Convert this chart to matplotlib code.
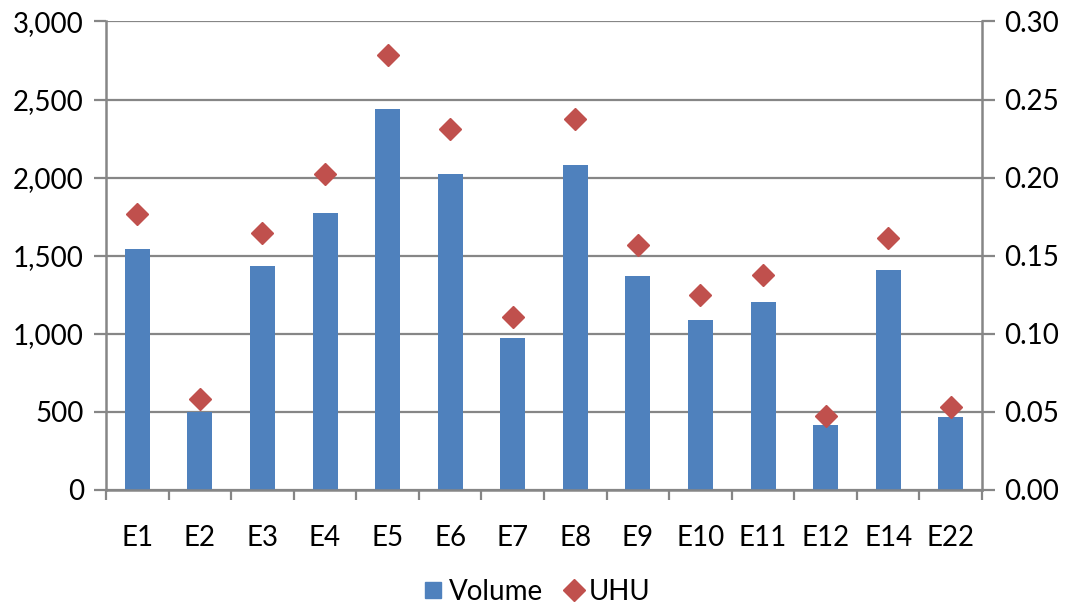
import matplotlib
matplotlib.use("Agg")
import matplotlib.pyplot as plt
from matplotlib.lines import Line2D
import numpy as np

categories = ["E1", "E2", "E3", "E4", "E5", "E6", "E7", "E8", "E9", "E10", "E11", "E12", "E14", "E22"]
volume = [1545, 502, 1434, 1771, 2438, 2026, 972, 2079, 1370, 1090, 1201, 415, 1410, 466]
uhu = [0.177, 0.058, 0.1645, 0.2026, 0.2784, 0.2314, 0.111, 0.2376, 0.1566, 0.125, 0.1376, 0.0474, 0.1611, 0.0532]
left_ticks = [0, 500, 1000, 1500, 2000, 2500, 3000]
right_ticks = [0.00, 0.05, 0.10, 0.15, 0.20, 0.25, 0.30]

BLUE = "#4F81BD"
RED = "#C0504D"
GRID = "#868686"
FS = 20

plt.rcParams["font.family"] = ["Lato", "DejaVu Sans"]

fig = plt.figure(figsize=(10.70, 6.07), dpi=100)
ax = fig.add_axes([0.0991, 0.1928, 0.8187, 0.7718])
ax2 = ax.twinx()

x = np.arange(len(categories))
ax.bar(x, volume, width=0.4, color=BLUE, zorder=2)
ax2.plot(x, uhu, linestyle="none", marker="D", markersize=11.5,
         color=RED, markeredgecolor=RED, zorder=3)

ax.set_xlim(-0.5, len(categories) - 0.5)
ax.set_ylim(0, 3000)
ax2.set_ylim(0, 0.30)

ax.set_yticks(left_ticks)
ax.set_yticklabels([f"{v:,}" for v in left_ticks])
ax2.set_yticks(right_ticks)
ax2.set_yticklabels([f"{v:.2f}" for v in right_ticks])

# category labels at centres, tick marks at the boundaries
ax.set_xticks(x)
ax.set_xticklabels(categories)
ax.set_xticks(np.arange(len(categories) + 1) - 0.5, minor=True)
ax.tick_params(axis="x", which="major", length=0, pad=25, labelsize=FS)
ax.tick_params(axis="x", which="minor", length=7, width=1.6, color=GRID, direction="out")

ax.tick_params(axis="y", length=9, width=1.6, color=GRID, pad=7, labelsize=FS)
ax2.tick_params(axis="y", length=9, width=1.6, color=GRID, pad=7, labelsize=FS)

ax.yaxis.grid(True, color=GRID, linewidth=1.6, zorder=0)
ax.set_axisbelow(True)

for a in (ax, ax2):
    a.spines["top"].set_visible(False)
    for s in ("left", "right", "bottom"):
        a.spines[s].set_color(GRID)
        a.spines[s].set_linewidth(1.8)
ax.spines["right"].set_visible(False)
ax2.spines["left"].set_visible(False)
ax2.spines["bottom"].set_visible(False)

handles = [
    Line2D([], [], linestyle="none", marker="s", markersize=11, color=BLUE, label="Volume"),
    Line2D([], [], linestyle="none", marker="D", markersize=11, color=RED, label="UHU"),
]
fig.legend(handles=handles, loc="center", bbox_to_anchor=(0.5, 0.025), ncol=2,
           frameon=False, fontsize=FS, handletextpad=0.05, columnspacing=0.6,
           handlelength=1.0)

fig.savefig("out.png", dpi=100)
